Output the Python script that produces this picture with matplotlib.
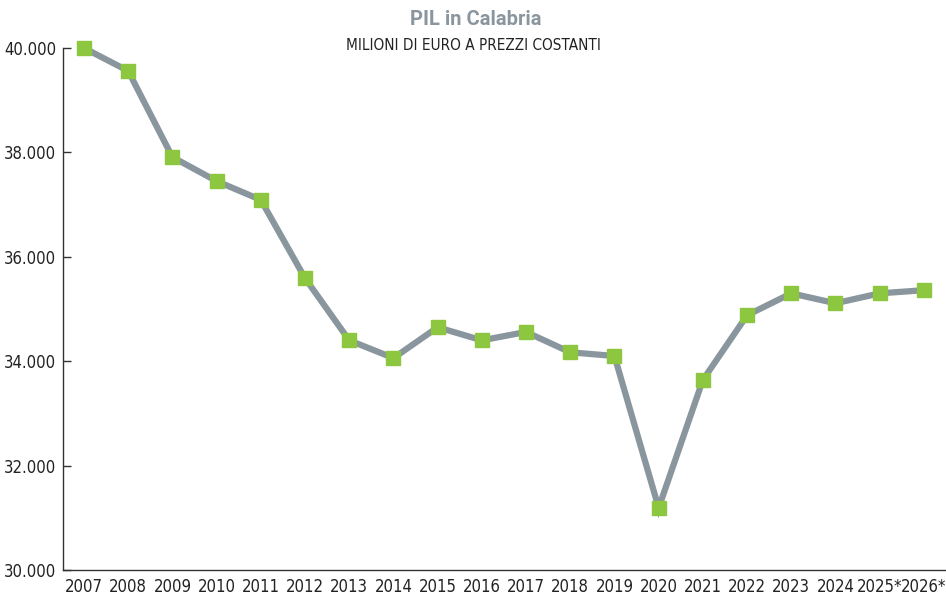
import matplotlib.pyplot as plt
from matplotlib.ticker import FuncFormatter

years = ["2007", "2008", "2009", "2010", "2011", "2012", "2013", "2014", "2015", "2016",
         "2017", "2018", "2019", "2020", "2021", "2022", "2023", "2024", "2025*", "2026*"]
pil = [40000, 39560, 37910, 37450, 37090, 35590, 34400, 34060, 34650, 34400,
       34560, 34170, 34100, 31190, 33640, 34880, 35300, 35110, 35300, 35360]
yticks = [30000, 32000, 34000, 36000, 38000, 40000]

plt.rcParams['font.family'] = ['DejaVu Sans']
plt.rcParams['font.stretch'] = 'condensed'

fig = plt.figure(figsize=(9.46, 5.97), dpi=100)
ax = fig.add_axes([63 / 946, 27 / 597, 1 - 63 / 946, (570 - 48) / 597])

x = list(range(len(years)))
ax.plot(x, pil, color='#8a969e', lw=4.5, solid_joinstyle='miter', zorder=2, clip_on=False)
ax.plot(x, pil, ls='none', marker='s', ms=10, color='#8dc63f', zorder=3, clip_on=False)

ax.set_xlim(-0.475, 19.5)
ax.set_ylim(30000, 40000)
ax.set_xticks(x)
ax.set_xticklabels(years)
ax.set_yticks(yticks)
ax.yaxis.set_major_formatter(FuncFormatter(lambda v, p: f"{int(v):,}".replace(",", ".")))

for s in ['top', 'right']:
    ax.spines[s].set_visible(False)
for s in ['left', 'bottom']:
    ax.spines[s].set_color('#333333')
    ax.spines[s].set_linewidth(1.0)
ax.tick_params(axis='y', direction='in', length=6, width=1.0, color='#333333', labelsize=12,
               labelcolor='#222222', pad=5)
ax.tick_params(axis='x', length=0, labelsize=12, labelcolor='#222222', pad=6)

fig.text(0.503, 0.983, "PIL in Calabria", ha='center', va='top', fontsize=14.5,
         fontweight='bold', color='#8a969e', family=['Roboto', 'DejaVu Sans'], stretch='normal')
fig.text(0.5, 0.936, "MILIONI DI EURO A PREZZI COSTANTI", ha='center', va='top',
         fontsize=11, color='#222222')

fig.savefig('out.png', dpi=100)
